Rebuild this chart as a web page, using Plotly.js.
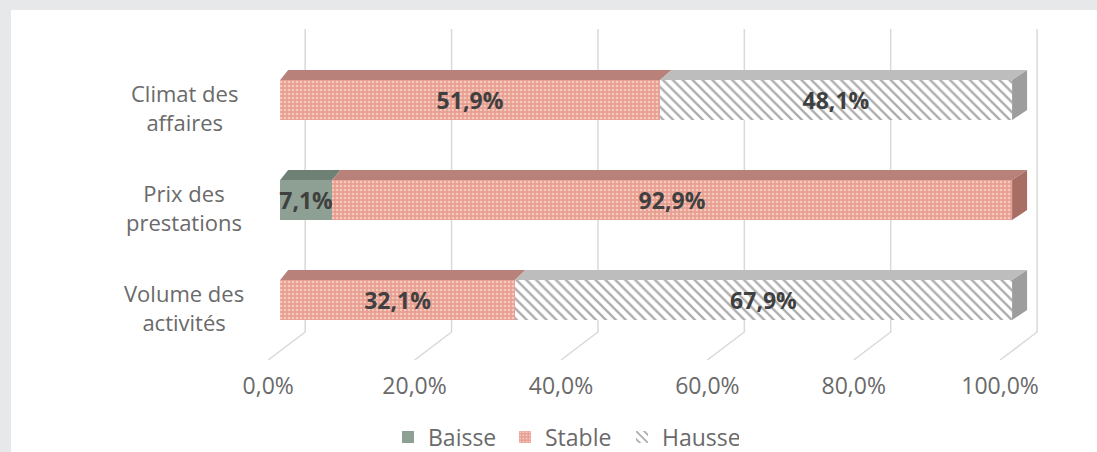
<!DOCTYPE html>
<html>
<head>
<meta charset="utf-8">
<script src="https://cdn.plot.ly/plotly-3.0.1.min.js"></script>
<style>
  html, body { margin:0; padding:0; background:#e6e8ea; overflow:hidden; width:1097px; height:452px; }
  #chart { position:absolute; left:11px; top:10px; width:1086px; height:470px; background:#fff; }
</style>
</head>
<body>
<div id="chart"></div>
<script>
// ---- data ----
const categories = ['Climat des<br>affaires', 'Prix des<br>prestations', 'Volume des<br>activités'];
const seriesNames = ['Baisse', 'Stable', 'Hausse'];
const baisse = [0, 7.1, 0];
const stable = [51.9, 92.9, 32.1];
const hausse = [48.1, 0, 67.9];
const tickVals = [0, 20, 40, 60, 80, 100];
const tickLabels = ['0,0%', '20,0%', '40,0%', '60,0%', '80,0%', '100,0%'];

// ---- style ----
const W = 1086, H = 470;
const margin = {l:196, r:41, t:10, b:120};
const xRange = [-10, 106];
const yRange = [-0.6, 2.8];
const plotW = W - margin.l - margin.r;
const kx = plotW / (xRange[1] - xRange[0]); // px per x unit
const ky = (H - margin.t - margin.b) / (yRange[1] - yRange[0]); // px per y unit
const FONT = '"Open Sans", Lato, sans-serif';
const TEXT_GRAY = '#6a6a6a';

const frontColors = ['#8e9f93', '#e79f91', '#ffffff'];
const topColors = ['#6f8075', '#b8817a', '#bdbdbd'];
const sideColors = ['#5f6e64', '#a86e66', '#9d9d9d'];
const patterns = [
  null,
  {shape:'.', fgcolor:'#f5c9be', bgcolor:'#e79f91', size:4, solidity:0.35},
  {shape:'\\', fgcolor:'#adadad', bgcolor:'#ffffff', size:7, solidity:0.33}
];

const yPos = categories.map((c, i) => categories.length - 1 - i);
const fmt = v => v > 0 ? v.toFixed(1).replace('.', ',') + '%' : '';
const allSeries = [baisse, stable, hausse];
const barWidth = 0.4;

const traces = allSeries.map((vals, s) => {
  const marker = {color: frontColors[s], line:{width:0}};
  if (patterns[s]) marker.pattern = patterns[s];
  return {
    type:'bar', orientation:'h', name: seriesNames[s],
    x: vals, y: yPos, width: barWidth,
    marker: marker,
    text: vals.map(fmt), textposition:'inside', insidetextanchor:'middle',
    constraintext:'none', textangle:0,
    textfont:{family:FONT, size:23, color:'#404040', weight:'bold'},
    hoverinfo:'skip'
  };
});

// 3D decorations derived from data and axis scales
const depthX = v => (8 + 7 * v / 100) / kx;  // perspective depth offset in x units
const depthY = 10 / ky;
const shapes = [];

// back-wall + floor gridlines
tickVals.forEach(v => {
  const xb = v + 25 / kx, xf = v - 12 / kx;
  const yTop = yPos[0] + 0.71, yBend = yRange[0] + 0.28, yBot = yRange[0];
  shapes.push({type:'path', xref:'x', yref:'y', layer:'below',
    path:`M ${xb},${yTop} L ${xb},${yBend} L ${xf},${yBot}`,
    line:{color:'#d9d9d9', width:1.5}});
});

yPos.forEach((yc, i) => {
  let cum = 0, lastEnd = null, lastS = null;
  const yt = yc + barWidth / 2, yb = yc - barWidth / 2;
  allSeries.forEach((vals, s) => {
    const v = vals[i];
    if (v <= 0) return;
    const x0 = cum, x1 = cum + v;
    shapes.push({type:'path', xref:'x', yref:'y', layer:'above',
      path:`M ${x0},${yt} L ${x0 + depthX(x0)},${yt + depthY} L ${x1 + depthX(x1)},${yt + depthY} L ${x1},${yt} Z`,
      fillcolor: topColors[s], line:{width:0}});
    cum = x1; lastEnd = x1; lastS = s;
  });
  if (lastEnd !== null) {
    const d = depthX(lastEnd);
    shapes.push({type:'path', xref:'x', yref:'y', layer:'above',
      path:`M ${lastEnd},${yt} L ${lastEnd + d},${yt + depthY} L ${lastEnd + d},${yb + depthY} L ${lastEnd},${yb} Z`,
      fillcolor: sideColors[lastS], line:{width:0}});
  }
});

const annotations = categories.map((c, i) => ({
  text: c, xref:'paper', yref:'y',
  x: (184 - 11 - margin.l) / plotW, y: yPos[i] - 0.07,
  xanchor:'center', yanchor:'middle', align:'center', showarrow:false,
  font:{family:FONT, size:22, color:TEXT_GRAY}
}));

const layout = {
  width: W, height: H, margin: margin,
  paper_bgcolor:'#ffffff', plot_bgcolor:'rgba(0,0,0,0)',
  barmode:'stack', bargap:0, showlegend:true,
  separators:', ',
  xaxis:{range:xRange, tickvals:tickVals, ticktext:tickLabels, ticklabelshift:-12, ticklabelstandoff:10,
    showgrid:false, zeroline:false, showline:false, ticks:'', fixedrange:true,
    tickfont:{family:FONT, size:23, color:TEXT_GRAY}},
  yaxis:{range:yRange, showticklabels:false, showgrid:false, zeroline:false, showline:false, ticks:'', fixedrange:true},
  legend:{orientation:'h', x:(388 - 11 - margin.l) / plotW, xanchor:'left',
    yref:'container', y:(H - 427) / H, yanchor:'middle', entrywidth:72,
    font:{family:FONT, size:23, color:TEXT_GRAY}, traceorder:'normal', itemclick:false},
  shapes: shapes, annotations: annotations
};

Plotly.newPlot('chart', traces, layout, {displayModeBar:false, staticPlot:true});
</script>
</body>
</html>
